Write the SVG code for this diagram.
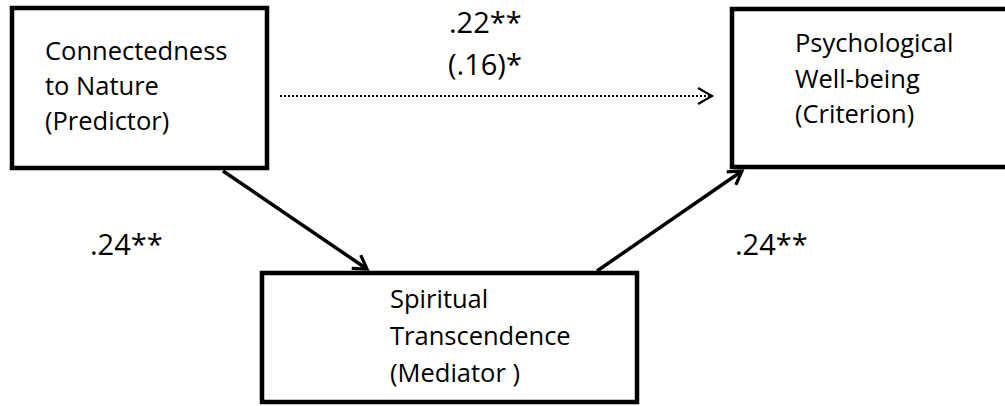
<svg xmlns="http://www.w3.org/2000/svg" width="1005" height="406" viewBox="0 0 1005 406">
<style>
.box{fill:#fff;stroke:#000;stroke-width:4.5}
.t{font-family:"Open Sans","Liberation Sans",sans-serif;font-size:25.5px;fill:#000}
.lab{font-family:"Open Sans","Liberation Sans",sans-serif;font-size:29px;fill:#000}
.arr{stroke:#000;stroke-width:3.5;fill:none}
.dot{stroke:#000;stroke-width:2.2;stroke-dasharray:2 2;fill:none}
</style>
<defs>
<marker id="head" markerUnits="userSpaceOnUse" markerWidth="30" markerHeight="30" viewBox="-20 -15 30 30" refX="0" refY="0" orient="auto">
<path d="M-13,-8 L0,0 L-13,8" fill="none" stroke="#000" stroke-width="3.2"/>
</marker>
<marker id="head2" markerUnits="userSpaceOnUse" markerWidth="30" markerHeight="30" viewBox="-20 -15 30 30" refX="0" refY="0" orient="auto">
<path d="M-14,-8 L0,0 L-14,8" fill="none" stroke="#000" stroke-width="2.2"/>
</marker>
</defs>
<rect width="1005" height="406" fill="#fff"/>
<g id="connectors">
<line class="dot" x1="280" y1="96" x2="712" y2="96" marker-end="url(#head2)"/>
<line class="arr" x1="223" y1="171" x2="367" y2="269" marker-end="url(#head)"/>
<line class="arr" x1="597" y1="271" x2="742" y2="171" marker-end="url(#head)"/>
<text class="lab" x="449" y="33">.22**</text>
<text class="lab" x="448" y="75">(.16)*</text>
<text class="lab" x="90" y="255">.24**</text>
<text class="lab" x="735" y="255">.24**</text>
</g>
<g id="predictor">
<rect class="box" x="12" y="8" width="255" height="160"/>
<text class="t" x="45" y="60">Connectedness</text>
<text class="t" x="45" y="95">to Nature</text>
<text class="t" x="45" y="130">(Predictor)</text>
</g>
<g id="criterion">
<rect class="box" x="732" y="9" width="290" height="158"/>
<text class="t" x="795" y="52">Psychological</text>
<text class="t" x="795" y="88">Well-being</text>
<text class="t" x="795" y="123">(Criterion)</text>
</g>
<g id="mediator">
<rect class="box" x="262" y="273" width="375" height="129"/>
<text class="t" x="390" y="308">Spiritual</text>
<text class="t" x="390" y="345">Transcendence</text>
<text class="t" x="390" y="382">(Mediator )</text>
</g>
</svg>
